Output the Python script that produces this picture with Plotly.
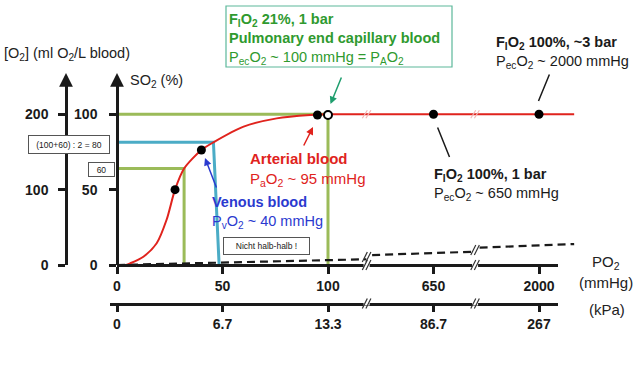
import plotly.graph_objects as go

W, H = 640, 371
FONT = "Liberation Sans, Arial, sans-serif"

# ---------------- data ----------------
# oxygen dissociation curve: PO2 (mmHg) -> SO2 (%)
curve_po2 = [0, 4, 6.2, 12.5, 18.8, 23.5, 27.5, 31.8, 40, 45.7, 60, 75.7, 91.5, 100, 650, 2000, 2450]
curve_so2 = [0, 0, 1.1, 5.5, 14.4, 30, 50, 64, 76.3, 81.4, 91.8, 97.3, 99.5, 100, 100, 100, 100]

# dissolved O2 (dashed line), ml O2 / L, drawn in three pieces around the axis breaks
diss_po2 = [0, 300, None, 330, 1160, None, 1240, 2450]
diss_o2 = [0, 7.6, None, 13.2, 17.6, None, 23.0, 27.8]

# marked points
dot_po2 = [27.5, 40, 95, 650, 2000]
dot_so2 = [50, 76.3, 99.5, 100, 100]
open_po2 = [100]
open_so2 = [99.5]

# guide lines
olive1_po2 = [0, 100, 100]
olive1_so2 = [100, 100, 0]
olive2_po2 = [0, 31.8, 31.8]
olive2_so2 = [64, 64, 0]
blue_po2 = [0, 45.7, 48.4]
blue_so2 = [81.4, 81.4, 0]

# axes
mmhg_ticks = [0, 50, 100, 650, 2000]
mmhg_labels = ["0", "50", "100", "650", "2000"]
kpa_labels = ["0", "6.7", "13.3", "86.7", "267"]
so2_ticks = [0, 50, 100]
o2_ticks = [0, 100, 200]

# broken PO2 scale: mmHg anchors -> display units
scale_mmhg = [0, 100, 650, 2000]
scale_disp = [0, 100, 150, 200]
BREAKS_DISP = [118.3, 169.7]

# ---------------- geometry ----------------
X0, SX = 117, 2.11   # px of PO2=0, px per display unit
Y0, SY = 265, 1.507  # px of SO2=0, px per % SO2


def to_disp(p):
    if p is None:
        return None
    for i in range(len(scale_mmhg) - 1):
        a, b = scale_mmhg[i], scale_mmhg[i + 1]
        if p <= b or i == len(scale_mmhg) - 2:
            da, db = scale_disp[i], scale_disp[i + 1]
            return da + (p - a) * (db - da) / (b - a)


def dx(px):
    return (px - X0) / SX


def dy(py):
    return (Y0 - py) / SY


def P(px, py):
    return px / W, 1 - py / H


fig = go.Figure()

RED = "#e0231d"
OLIVE = "#9bbb59"
LBLUE = "#4bacc6"
GREEN = "#2f9a2f"
DBLUE = "#2b3acf"
BLK = "#1a1a1a"

# guide lines
for xs, ys, c in [(olive1_po2, olive1_so2, OLIVE), (olive2_po2, olive2_so2, OLIVE), (blue_po2, blue_so2, LBLUE)]:
    fig.add_trace(go.Scatter(x=[to_disp(v) for v in xs], y=ys, mode="lines",
                             line=dict(color=c, width=3), hoverinfo="skip", showlegend=False))

# dissolved O2 dashed
fig.add_trace(go.Scatter(x=[to_disp(v) for v in diss_po2],
                         y=[None if v is None else v / 2 for v in diss_o2],
                         mode="lines", line=dict(color=BLK, width=2.2, dash="8px,5px"),
                         hoverinfo="skip", showlegend=False))

# dissociation curve
fig.add_trace(go.Scatter(x=[to_disp(v) for v in curve_po2], y=curve_so2, mode="lines",
                         line=dict(color=RED, width=2, shape="spline", smoothing=0.8),
                         hoverinfo="skip", showlegend=False))

# points
fig.add_trace(go.Scatter(x=[to_disp(v) for v in dot_po2], y=dot_so2, mode="markers",
                         marker=dict(color="black", size=9), hoverinfo="skip", showlegend=False))
fig.add_trace(go.Scatter(x=[to_disp(v) for v in open_po2], y=open_so2, mode="markers",
                         marker=dict(color="white", size=8, line=dict(color="black", width=2)),
                         hoverinfo="skip", showlegend=False))

# dummy traces to attach the visible axes
fig.add_trace(go.Scatter(x=[0], y=[0], xaxis="x2", yaxis="y2", mode="markers",
                         marker=dict(opacity=0), hoverinfo="skip", showlegend=False))
fig.add_trace(go.Scatter(x=[0], y=[0], xaxis="x3", yaxis="y3", mode="markers",
                         marker=dict(opacity=0), hoverinfo="skip", showlegend=False))

axis_common = dict(showline=True, linecolor=BLK, linewidth=2.5, ticks="outside", ticklen=7,
                   tickwidth=2.5, tickcolor=BLK, showgrid=False, zeroline=False, automargin=False,
                   tickfont=dict(family=FONT, size=14, color=BLK, weight="bold"), fixedrange=True)

ydom = [(H - Y0) / H, (H - 82) / H]
fig.update_layout(
    template="none",
    width=W, height=H, margin=dict(l=0, r=0, t=0, b=0, pad=0), autosize=False,
    paper_bgcolor="white", plot_bgcolor="rgba(0,0,0,0)",
    xaxis=dict(domain=[0, 1], range=[dx(0), dx(W)], visible=False, automargin=False),
    yaxis=dict(domain=[0, 1], range=[dy(H), dy(0)], visible=False, automargin=False),
    xaxis2=dict(domain=[X0 / W, 558 / W], range=[0, dx(558)], anchor="free", position=(H - Y0) / H,
                tickvals=[to_disp(v) for v in mmhg_ticks], ticktext=mmhg_labels, ticklabelstandoff=0,
                **axis_common),
    xaxis3=dict(domain=[110 / W, 558 / W], range=[dx(110), dx(558)], anchor="free",
                position=(H - 303.5) / H, tickvals=[to_disp(v) for v in mmhg_ticks], ticktext=kpa_labels,
                ticklabelstandoff=0, **axis_common),
    yaxis2=dict(domain=ydom, range=[0, dy(82)], anchor="free", position=X0 / W,
                tickvals=so2_ticks, ticklabelstandoff=9, **axis_common),
    yaxis3=dict(domain=ydom, range=[0, 2 * dy(82)], anchor="free", position=66 / W,
                tickvals=o2_ticks, ticklabelstandoff=7, **axis_common),
    showlegend=False,
)

shapes = []
# axis breaks
def brk(xpx, ypx, color, gap=True, h=5):
    out = []
    if gap:
        out.append(dict(type="rect", xref="paper", yref="paper",
                        x0=(xpx - 3) / W, x1=(xpx + 3) / W, y0=1 - (ypx + 2) / H, y1=1 - (ypx - 2) / H,
                        fillcolor="white", line=dict(width=0), layer="above"))
    for o in (-1.8, 1.8):
        out.append(dict(type="line", xref="paper", yref="paper",
                        x0=(xpx + o - 2.5) / W, y0=1 - (ypx + h) / H,
                        x1=(xpx + o + 2.5) / W, y1=1 - (ypx - h) / H,
                        line=dict(color=color, width=1.2), layer="above"))
    return out

for b in BREAKS_DISP:
    xpx = X0 + b * SX
    shapes += brk(xpx, Y0, "#333")
    shapes += brk(xpx, 303.5, "#333")
    shapes += brk(xpx, Y0 - 100 * SY, "#f2b8b8", gap=False, h=4)
shapes += brk(X0 + BREAKS_DISP[0] * SX, 257, "#333", gap=False, h=5)
shapes += brk(X0 + BREAKS_DISP[1] * SX, 250, "#333", gap=False, h=5)

# green info box
shapes.append(dict(type="rect", xref="paper", yref="paper", x0=226 / W, x1=452 / W,
                   y0=1 - 67 / H, y1=1 - 6 / H, line=dict(color="#5cb89a", width=1.2),
                   fillcolor="rgba(0,0,0,0)"))
fig.update_layout(shapes=shapes)

ann = []


def text(px, py, s, size=14.5, color=BLK, xanchor="left"):
    x, y = P(px, py)
    ann.append(dict(x=x, y=y, xref="paper", yref="paper", text=s, showarrow=False,
                    xanchor=xanchor, yanchor="middle", align="left", borderpad=0,
                    font=dict(family=FONT, size=size, color=color)))


def arrow(tail, tip, color, head=2, width=1.5):
    ann.append(dict(x=dx(tip[0]), y=dy(tip[1]), ax=dx(tail[0]), ay=dy(tail[1]),
                    xref="x", yref="y", axref="x", ayref="y", text="", showarrow=True,
                    arrowhead=head, arrowsize=1, arrowwidth=width, arrowcolor=color, standoff=0))


def boxed(px0, px1, py0, py1, s, size=8.5):
    x, y = P((px0 + px1) / 2, (py0 + py1) / 2)
    ann.append(dict(x=x, y=y, xref="paper", yref="paper", text=s, showarrow=False,
                    xanchor="center", yanchor="middle", width=px1 - px0 - 2, height=py1 - py0 - 2,
                    borderpad=0, bordercolor="#555", borderwidth=1, bgcolor="white",
                    font=dict(family=FONT, size=size, color=BLK)))


# axis titles
text(3, 54, "[O<sub>2</sub>] (ml O<sub>2</sub>/L blood)", color="#222")
text(129, 81, "SO<sub>2</sub> (%)", color="#222")
text(606, 262, "PO<sub>2</sub>", size=15, color="#222", xanchor="center")
text(606, 282, "(mmHg)", size=15, color="#222", xanchor="center")
text(607, 309, "(kPa)", size=15, color="#222", xanchor="center")

# y-axis arrow heads
for xp in (X0, 66):
    x, y = P(xp, 73)
    ann.append(dict(x=x, y=y, xref="paper", yref="paper", ax=0, ay=14, text="", showarrow=True,
                    arrowhead=2, arrowsize=1.1, arrowwidth=2.5, arrowcolor=BLK, standoff=0))

# green box
text(228, 39, "<b>F<sub>I</sub>O<sub>2</sub> 21%, 1 bar</b><br><b>Pulmonary end capillary blood</b><br>"
     "P<sub>ec</sub>O<sub>2</sub> ~ 100 mmHg = P<sub>A</sub>O<sub>2</sub>", color=GREEN)
arrow((342, 76), (330.5, 104), "#1f9e6e")

# 100 %, ~3 bar
text(495, 52, "<b>F<sub>I</sub>O<sub>2</sub> 100%, ~3 bar</b><br>P<sub>ec</sub>O<sub>2</sub> ~ 2000 mmHg")
arrow((550, 73), (538.5, 101), BLK, head=0)

# 100 %, 1 bar
text(433, 185, "<b>F<sub>I</sub>O<sub>2</sub> 100%, 1 bar</b><br>P<sub>ec</sub>O<sub>2</sub> ~ 650 mmHg")
arrow((437, 126), (449.5, 157), BLK, head=0)

# arterial
text(249, 169.5, "<b>Arterial blood</b><br>P<sub>a</sub>O<sub>2</sub> ~ 95 mmHg", size=15, color=RED)
arrow((303, 147), (313, 127), RED)

# venous
text(211, 212, "<b>Venous blood</b><br>P<sub>v</sub>O<sub>2</sub> ~ 40 mmHg", color=DBLUE)
arrow((217, 189), (205, 158), DBLUE)

# small boxes
boxed(28, 110, 135, 154, "(100+60) : 2 = 80")
boxed(88, 115, 162, 177, "60")
boxed(223, 310, 237, 255, "Nicht halb-halb !")

fig.update_layout(annotations=ann)
fig.write_html("out.html", config={"displayModeBar": False},
               post_script="document.body.style.margin='0px';")
